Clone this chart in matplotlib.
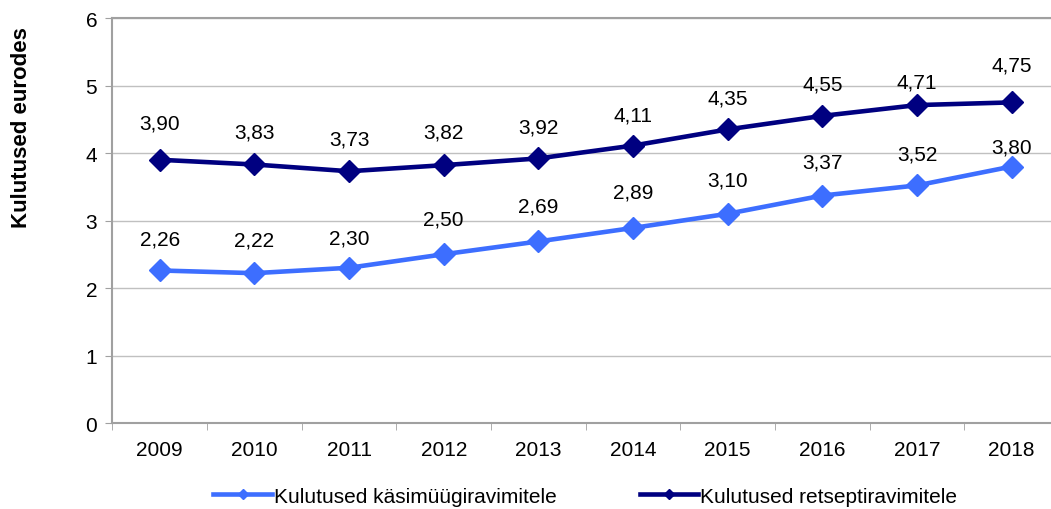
import numpy as np
import matplotlib.pyplot as plt

plt.rcParams['font.family'] = ['Liberation Sans', 'DejaVu Sans']

# Andmed
aastad = ['2009', '2010', '2011', '2012', '2013', '2014', '2015', '2016', '2017', '2018']
kasimuugi = [2.26, 2.22, 2.30, 2.50, 2.69, 2.89, 3.10, 3.37, 3.52, 3.80]
retsepti = [3.90, 3.83, 3.73, 3.82, 3.92, 4.11, 4.35, 4.55, 4.71, 4.75]

nimi_kasimuugi = 'Kulutused käsimüügiravimitele'
nimi_retsepti = 'Kulutused retseptiravimitele'

VARV_HELE = '#3D6EFF'
VARV_TUME = '#000080'
VARV_RAAM = '#A0A0A0'
VARV_VORK = '#C0C0C0'
SUURUS = 15


def silt(v):
    return f'{v:.2f}'.replace('.', ',')


fig = plt.figure(figsize=(10.51, 5.10), dpi=100)
ax = fig.add_axes([0.107, 0.1686, 0.9006, 0.7941])

x = np.arange(len(aastad))
ax.plot(x, kasimuugi, color=VARV_HELE, linewidth=3.3, marker='D', markersize=11,
        label=nimi_kasimuugi, zorder=3)
ax.plot(x, retsepti, color=VARV_TUME, linewidth=3.3, marker='D', markersize=11,
        label=nimi_retsepti, zorder=3)

# andmesildid punktide kohal (nihe pikslites)
nihe_hele = [31, 33, 30, 35, 35, 36, 34, 34, 31, 20]
nihe_tume = [37, 32, 32, 33, 31, 31, 31, 32, 23, 37]
for i in range(len(aastad)):
    ax.annotate(silt(kasimuugi[i]), (x[i], kasimuugi[i]), xytext=(0, nihe_hele[i] * 0.72),
                textcoords='offset points', ha='center', va='center', fontsize=SUURUS)
    ax.annotate(silt(retsepti[i]), (x[i], retsepti[i]), xytext=(0, nihe_tume[i] * 0.72),
                textcoords='offset points', ha='center', va='center', fontsize=SUURUS)

ax.set_xlim(-0.5, len(aastad) - 0.5)
ax.set_ylim(0, 6)
ax.set_yticks(range(0, 7))
ax.set_xticks(x)
ax.set_xticklabels(aastad)
ax.set_xticks(np.arange(-0.5, len(aastad), 1), minor=True)
ax.tick_params(axis='x', which='major', length=0, pad=12, labelsize=SUURUS)
ax.tick_params(axis='x', which='minor', length=5, color=VARV_RAAM, direction='out')
ax.tick_params(axis='y', length=5, color=VARV_RAAM, direction='out', pad=6, labelsize=SUURUS)

ax.yaxis.grid(True, color=VARV_VORK, linewidth=1)
ax.set_axisbelow(True)
for s in ['left', 'bottom', 'top']:
    ax.spines[s].set_color(VARV_RAAM)
    ax.spines[s].set_linewidth(1.5)
ax.spines['right'].set_visible(False)

ax.set_ylabel('Kulutused eurodes', fontsize=16, fontweight='bold', labelpad=0)
ax.yaxis.set_label_coords(-0.085, 0.733)

fig.legend(loc='center', bbox_to_anchor=(0.557, 0.025), ncol=2, frameon=False,
           fontsize=SUURUS, handlelength=2.8, handletextpad=0.1, columnspacing=4.0,
           borderaxespad=0, markerscale=0.45)

fig.savefig('out.png', dpi=100)
plt.close()
